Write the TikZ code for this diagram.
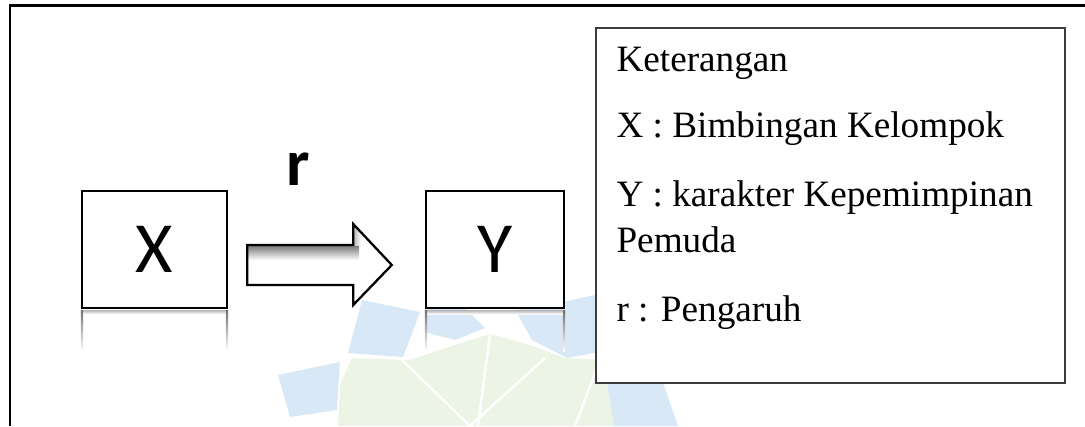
\documentclass[tikz,border=0pt]{standalone}
\usepackage{fontspec}
\setmainfont{Liberation Serif}
\newfontfamily\boxfont{Carlito}
\usetikzlibrary{calc}
\definecolor{wmblue}{RGB}{216,232,246}
\definecolor{wmgreen}{RGB}{236,244,229}
\definecolor{legline}{RGB}{60,60,60}
\tikzset{
  varbox/.style={draw=black, line width=2.4pt, fill=white, minimum width=145pt,
    minimum height=117pt, inner sep=0pt, font=\boxfont\fontsize{72}{72}\selectfont},
  blockarrow/.style={draw=black, line width=2.3pt, line join=miter},
  legbox/.style={draw=legline, line width=1.3pt, fill=white, inner sep=0pt},
  legtext/.style={anchor=base west, inner sep=0pt, font=\fontsize{37.2}{40}\selectfont},
  wmline/.style={draw=white, line width=2.5pt},
}
\begin{document}
\begin{tikzpicture}[x=1pt,y=-1pt]
\useasboundingbox (0,0) rectangle (1085,426);
% watermark (faint logo)
\fill[wmgreen] (340,385) -- (352,358) -- (410,360) -- (455,345) -- (490,334) -- (530,345) -- (565,358) -- (605,360) -- (635,380) -- (640,426) -- (338,426) -- cycle;
\fill[wmblue] (362,300) -- (420,312) -- (403,357) -- (348,353) -- cycle;
\fill[wmblue] (278,375) -- (340,362) -- (337,410) -- (290,417) -- cycle;
\fill[wmblue] (425,308) -- (465,308) -- (485,328) -- (455,340) -- (425,332) -- cycle;
\fill[wmblue] (515,310) -- (562,302) -- (600,294) -- (610,350) -- (567,358) -- (532,340) -- cycle;
\fill[wmblue] (607,382) -- (660,374) -- (678,426) -- (614,426) -- cycle;
\draw[wmline] (400,358) -- (470,426);
\draw[wmline] (545,358) -- (470,426);
\draw[wmline] (490,334) -- (478,426);
\draw[wmline] (600,360) -- (575,426);
% outer frame
\draw[line width=2.2pt] (10,426) -- (10,5.5) -- (1085,5.5);
% boxes
\node[varbox] (X) at (154.5,249.5) {X};
\node[varbox, minimum width=138pt] (Y) at (495,249.5) {Y};
% reflections
\foreach \b in {X,Y}{
  \shade[top color=black!55, bottom color=white] ($(\b.south west)+(0,1.5)$) rectangle ($(\b.south west)+(2.4,42)$);
  \shade[top color=black!55, bottom color=white] ($(\b.south east)+(-2.4,1.5)$) rectangle ($(\b.south east)+(0,42)$);
  \shade[top color=black!25, bottom color=white] ($(\b.south west)+(2.4,1.5)$) rectangle ($(\b.south east)+(-2.4,5)$);
}
% block arrow
\path ($(X.east)+(19,15.5)$) coordinate (s) ($(Y.west)+(-33,15.5)$) coordinate (t);
\fill[white] (s) ++(0,-20) -- ++(106,0) -- ++(0,-21) -- (t) -- ($(s)+(106,40)$) -- ++(0,-20) -- ($(s)+(0,20)$) -- cycle;
\begin{scope}
  \clip (s) ++(0,-20) -- ++(106,0) -- ++(0,-21) -- (t) -- ($(s)+(106,40)$) -- ++(0,-20) -- ($(s)+(0,20)$) -- cycle;
  \shade[top color=black!55, bottom color=white] ($(s)+(0,-20)$) rectangle ($(s)+(112,-5)$);
  \shade[left color=black!30, right color=white] ($(s)+(106,-41)$) rectangle ($(s)+(114,-20)$);
\end{scope}
\draw[blockarrow] (s) ++(0,-20) -- ++(106,0) -- ++(0,-21) -- (t) -- ($(s)+(106,40)$) -- ++(0,-20) -- ($(s)+(0,20)$) -- cycle;
\node[anchor=base, inner sep=0pt, font=\boxfont\bfseries\fontsize{66}{66}\selectfont] (r) at (298,185) {r};
% legend
\node[legbox, minimum width=469pt, minimum height=355pt] (leg) at (830.5,205.5) {};
\node[legtext] (l0) at ($(leg.north west)+(21,44)$) {Keterangan};
\node[legtext] (l1) at ($(leg.north west)+(21,110)$) {X : Bimbingan Kelompok};
\node[legtext] (l2) at ($(leg.north west)+(21,179)$) {Y : karakter Kepemimpinan};
\node[legtext] (l3) at ($(leg.north west)+(21,225)$) {Pemuda};
\node[legtext] (l4) at ($(leg.north west)+(21,294)$) {r : Pengaruh};
\end{tikzpicture}
\end{document}
